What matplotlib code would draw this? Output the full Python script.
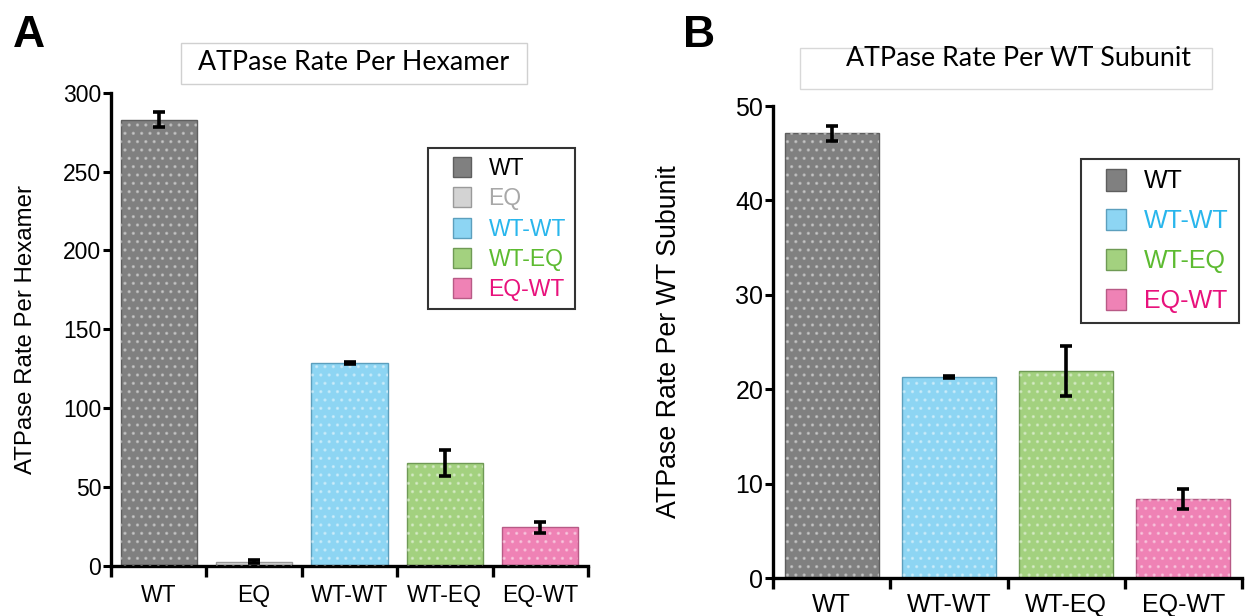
import numpy as np
import matplotlib.pyplot as plt
from matplotlib.patches import Patch, Rectangle

# data
labels_a = ["WT", "EQ", "WT-WT", "WT-EQ", "EQ-WT"]
rate_a = [283.0, 2.5, 128.3, 65.1, 24.4]
err_a = [4.8, 0.8, 0.6, 8.1, 3.4]

labels_b = ["WT", "WT-WT", "WT-EQ", "EQ-WT"]
rate_b = [47.1, 21.3, 21.9, 8.4]
err_b = [0.8, 0.1, 2.65, 1.05]

fill = {"WT": "#808080", "EQ": "#d3d3d3", "WT-WT": "#8dd5f3",
        "WT-EQ": "#a3d17f", "EQ-WT": "#ef82b5"}
edge = {"WT": "#5e5e5e", "EQ": "#9a9a9a", "WT-WT": "#5c9fbd",
        "WT-EQ": "#6f9a55", "EQ-WT": "#b85a86"}
txt = {"WT": "black", "EQ": "#a8a8a8", "WT-WT": "#29b6ec",
       "WT-EQ": "#5dbb31", "EQ-WT": "#e8127c"}

plt.rcParams['font.family'] = ['Liberation Sans', 'DejaVu Sans']
plt.rcParams['hatch.linewidth'] = 1.2

W, H = 1245, 616
fig = plt.figure(figsize=(W/100, H/100), dpi=100)


def panel(rect, labels, vals, errs, ymax, ystep, ylabel, fs, lfs, labx, pad):
    ax = fig.add_axes(rect)
    x = np.arange(len(labels))
    cols = [fill[l] for l in labels]
    ax.bar(x, vals, width=0.8, color=cols,
           edgecolor=[edge[l] for l in labels], linewidth=1, zorder=2)
    # dotted texture over bars
    ax.bar(x, vals, width=0.8, color="none", edgecolor="white",
           hatch="..", linewidth=0, alpha=0.35, zorder=3)
    ax.errorbar(x, vals, yerr=errs, fmt="none", ecolor="black",
                elinewidth=2.6, capsize=4, capthick=2.6, zorder=4)
    ax.set_xlim(-0.5, len(labels) - 0.5)
    ax.set_ylim(0, ymax)
    ax.set_yticks(np.arange(0, ymax + 1, ystep))
    ax.set_xticks(x)
    ax.set_xticklabels(labels)
    ax.set_xticks(np.arange(-0.5, len(labels)), minor=True)
    ax.tick_params(axis="x", which="major", length=0, labelsize=fs, pad=pad)
    ax.tick_params(axis="x", which="minor", length=8, width=2.4,
                   direction="out")
    ax.tick_params(axis="y", length=6, width=2.2, labelsize=fs, pad=1)
    for s in ["top", "right"]:
        ax.spines[s].set_visible(False)
    for s in ["left", "bottom"]:
        ax.spines[s].set_linewidth(2.4)
    ax.set_ylabel(ylabel, fontsize=lfs)
    ax.yaxis.set_label_coords(labx, 0.5)

    handles = [Patch(facecolor=fill[l], edgecolor=edge[l], label=l)
               for l in labels]
    return ax, handles


def boxed_legend(ax, handles, labels, box, fs, spacing):
    # box = (left, top, right, bottom) in pixels
    l, t, r, b = box
    fig.patches.append(Rectangle((l/W, 1 - b/H), (r - l)/W, (b - t)/H,
                                 transform=fig.transFigure, fill=False,
                                 edgecolor="#333333", linewidth=1.5))
    leg = ax.legend(handles=handles, loc="upper right",
                    bbox_to_anchor=(r/W, 1 - t/H),
                    bbox_transform=fig.transFigure, borderaxespad=0,
                    fontsize=fs, handlelength=0.8, handleheight=0.95,
                    handletextpad=0.75, labelspacing=spacing, borderpad=0.4,
                    frameon=False)
    for tx, lb in zip(leg.get_texts(), labels):
        tx.set_color(txt[lb])
    return leg


axA, hA = panel([111/W, 1 - 565.7/H, 477/W, 473/H], labels_a, rate_a, err_a,
                300, 50, "ATPase Rate Per Hexamer", 16.5, 17.3, -0.155, 13)
boxed_legend(axA, hA, labels_a, (428, 147.7, 575, 309), 16.5, 0.32)

axB, hB = panel([773/W, 1 - 578/H, 469/W, 472/H], labels_b, rate_b, err_b,
                50, 10, "ATPase Rate Per WT Subunit", 18, 19.3, -0.194, 11)
boxed_legend(axB, hB, labels_b, (1081, 159, 1239, 323), 18, 0.62)

# boxed titles
fig.patches.append(Rectangle((181/W, 1 - 84/H), 346/W, 41.3/H,
                             transform=fig.transFigure, fill=False,
                             edgecolor="#d0d0d0", linewidth=1))
fig.text(354/W, 1 - 63/H, "ATPase Rate Per Hexamer", family="Lato",
         fontsize=19.3, ha="center", va="center")
fig.patches.append(Rectangle((800/W, 1 - 89/H), 412/W, 41.3/H,
                             transform=fig.transFigure, fill=False,
                             edgecolor="#d8d8d8", linewidth=1))
fig.text(1018/W, 1 - 58/H, "ATPase Rate Per WT Subunit", family="Lato",
         fontsize=19.3, ha="center", va="center")

# panel letters
fig.text(13/W, 1 - 47/H, "A", fontsize=32, fontweight="bold", va="baseline")
fig.text(683/W, 1 - 47/H, "B", fontsize=32, fontweight="bold", va="baseline")

fig.savefig("out.png", dpi=100)
